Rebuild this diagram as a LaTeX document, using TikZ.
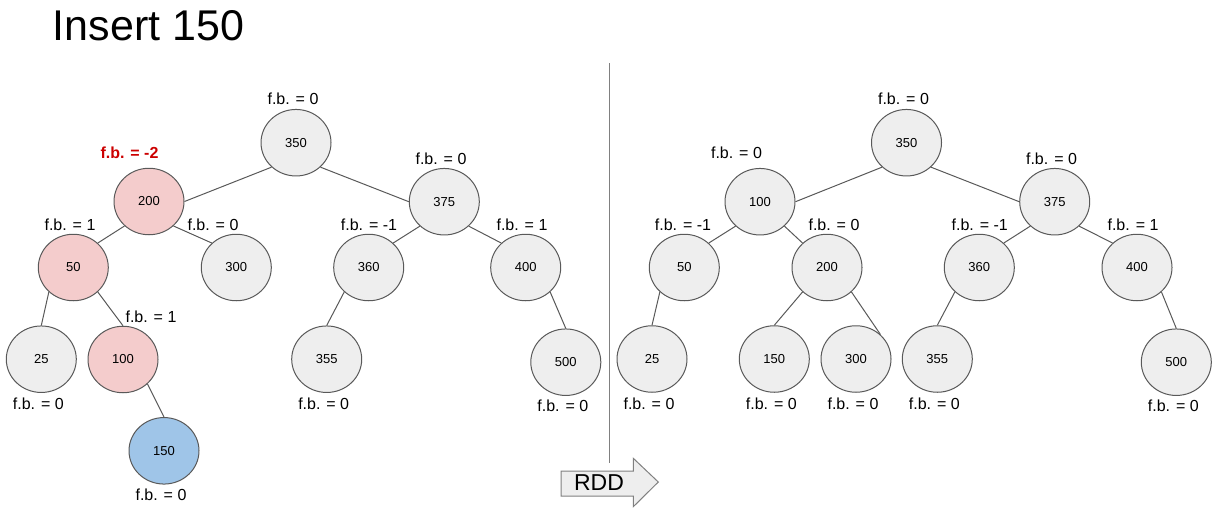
\documentclass[tikz,border=0pt]{standalone}
\usepackage{fontspec}
\setmainfont{Liberation Sans}
\usepackage{xcolor}
\usepackage{tikz}
\definecolor{keygray}{RGB}{238, 238, 238}
\definecolor{linegray}{RGB}{89, 89, 89}
\definecolor{splitgray}{RGB}{128, 128, 128}
\definecolor{unbalpink}{RGB}{244, 204, 204}
\definecolor{newblue}{RGB}{159, 197, 232}
\definecolor{alertred}{RGB}{204, 0, 0}
\usetikzlibrary{shapes.geometric, positioning}

\begin{document}
\begin{tikzpicture}[
        x=1pt, y=-1pt,
        every node/.style={font=\fontsize{16}{19}\selectfont},
        key/.style={ellipse, minimum width=70pt, minimum height=66.5pt, inner sep=0pt, draw=linegray, fill=keygray, line width=1pt, font=\fontsize{13}{15}\selectfont},
        fb/.style={inner sep=0pt},
        fbbelow/.style={fb, xshift=-3pt},
        link/.style={draw=linegray, line width=1pt},
        divider/.style={draw=splitgray, line width=1.5pt}
    ]
        \useasboundingbox (0,0) rectangle (1217,512);

        \node[anchor=base west, inner sep=0pt, font=\fontsize{43}{50}\selectfont] (title) at (52.7,40) {Insert 150};

        % before the rotation
        \node[key] (l350) at (296,142.7) {350};
        \node[key, fill=unbalpink] (l200) at (149,201.5) {200};
        \node[key] (l375) at (444.3,201.7) {375};
        \node[key, fill=unbalpink] (l50) at (73.3,267.5) {50};
        \node[key] (l300) at (236.3,267.5) {300};
        \node[key] (l360) at (368.7,267.5) {360};
        \node[key] (l400) at (525.7,267.5) {400};
        \node[key] (l25) at (41.3,359.2) {25};
        \node[key, fill=unbalpink] (l100) at (123,359.5) {100};
        \node[key] (l355) at (326.7,359.2) {355};
        \node[key] (l500) at (565.8,362.2) {500};
        \node[key, fill=newblue] (l150) at (164,450.8) {150};

        \node[fb] (fl350) at (293,99) {f.b. = 0};
        \node[fb, text=alertred, font=\fontsize{16}{19}\selectfont\bfseries] (fl200) at (129.5,153) {f.b. = -2};
        \node[fb] (fl375) at (441,159) {f.b. = 0};
        \node[fb] (fl50) at (70,224.5) {f.b. = 1};
        \node[fb] (fl300) at (213,224.5) {f.b. = 0};
        \node[fb] (fl360) at (369,224.5) {f.b. = -1};
        \node[fb] (fl400) at (522,224.5) {f.b. = 1};
        \node[fb] (fl100) at (151,316.7) {f.b. = 1};
        \node[fbbelow, below=4.5pt of l25] (fl25) {f.b. = 0};
        \node[fbbelow, below=5pt of l355] (fl355) {f.b. = 0};
        \node[fbbelow, below=3.5pt of l500] (fl500) {f.b. = 0};
        \node[fbbelow, below=4.5pt of l150] (fl150) {f.b. = 0};

        \draw[link] (l350.225) -- (l200.east);
        \draw[link] (l350.-45) -- (l375.west);
        \draw[link] (l200.225) -- (l50.45);
        \draw[link] (l200.-45) -- (l300.135);
        \draw[link] (l375.225) -- (l360.45);
        \draw[link] (l375.-45) -- (l400.135);
        \draw[link] (l50.225) -- (l25.north);
        \draw[link] (l50.-45) -- (l100.north);
        \draw[link] (l100.-45) -- (l150.north);
        \draw[link] (l360.225) -- (l355.north);
        \draw[link] (l400.-45) -- (l500.north);

        % split and rotation arrow
        \draw[divider] (609.5,63) -- (609.5,463);
        \draw[draw=splitgray, fill=keygray, line width=1pt] (561,471) -- (633.3,471) -- (633.3,458.3) -- (658.3,482) -- (633.3,506.7) -- (633.3,496) -- (561,496) -- cycle;
        \node[inner sep=0pt, font=\fontsize{23}{27}\selectfont] (rdd) at (599,482.3) {RDD};

        % after the rotation
        \node[key] (r350) at (906.5,142.7) {350};
        \node[key] (r100) at (760,201.7) {100};
        \node[key] (r375) at (1054.7,201.7) {375};
        \node[key] (r50) at (684.3,267.5) {50};
        \node[key] (r200) at (827,267.5) {200};
        \node[key] (r360) at (979.3,267.5) {360};
        \node[key] (r400) at (1137,267.5) {400};
        \node[key] (r25) at (652,359) {25};
        \node[key] (r150) at (774.3,359) {150};
        \node[key] (r300) at (856,359) {300};
        \node[key] (r355) at (937.3,359) {355};
        \node[key] (r500) at (1176.3,362.2) {500};

        \node[fb] (fr350) at (903.5,99) {f.b. = 0};
        \node[fb] (fr100) at (736.5,153) {f.b. = 0};
        \node[fb] (fr375) at (1051.5,159) {f.b. = 0};
        \node[fb] (fr50) at (683,224.5) {f.b. = -1};
        \node[fb] (fr200) at (834,224.5) {f.b. = 0};
        \node[fb] (fr360) at (979.7,224.5) {f.b. = -1};
        \node[fb] (fr400) at (1133,225) {f.b. = 1};
        \node[fbbelow, below=4.5pt of r25] (fr25) {f.b. = 0};
        \node[fbbelow, below=4.5pt of r150] (fr150) {f.b. = 0};
        \node[fbbelow, below=4.5pt of r300] (fr300) {f.b. = 0};
        \node[fbbelow, below=4.5pt of r355] (fr355) {f.b. = 0};
        \node[fbbelow, below=3.5pt of r500] (fr500) {f.b. = 0};

        \draw[link] (r350.225) -- (r100.east);
        \draw[link] (r350.-45) -- (r375.west);
        \draw[link] (r100.225) -- (r50.45);
        \draw[link] (r100.-45) -- (r200.135);
        \draw[link] (r375.225) -- (r360.45);
        \draw[link] (r375.-45) -- (r400.135);
        \draw[link] (r50.225) -- (r25.north);
        \draw[link] (r200.225) -- (r150.north);
        \draw[link] (r200.-45) -- (r300.45);
        \draw[link] (r360.225) -- (r355.north);
        \draw[link] (r400.-45) -- (r500.north);

    \end{tikzpicture}
\end{document}
